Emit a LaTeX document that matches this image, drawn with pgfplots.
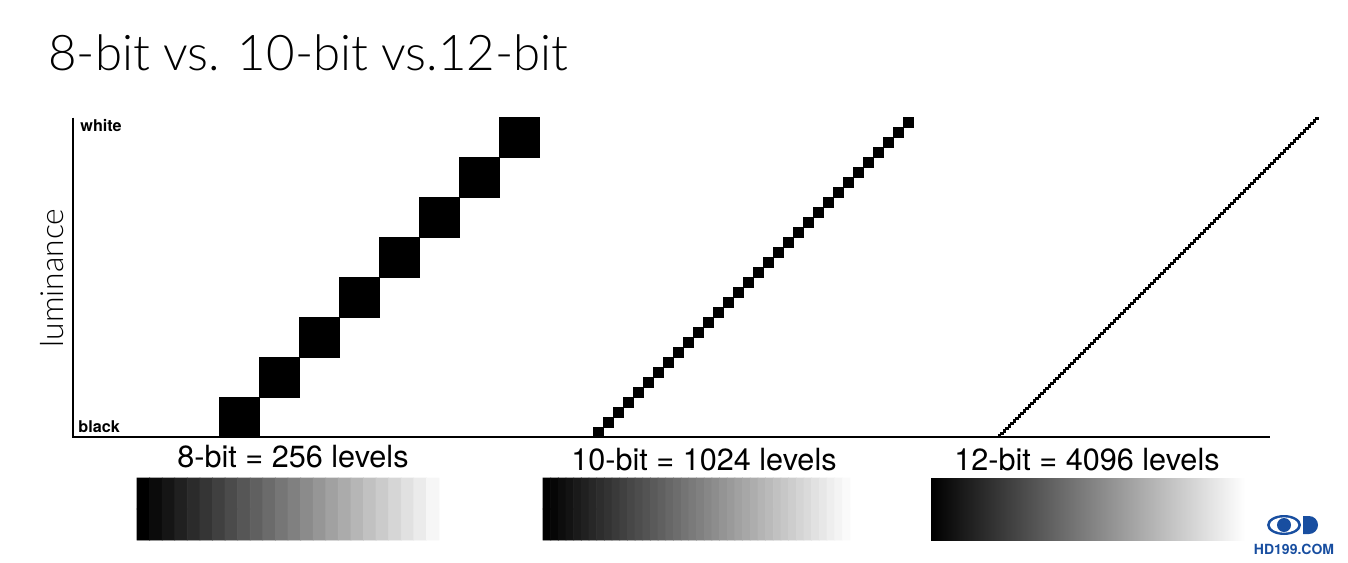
\documentclass[border=0pt]{standalone}
\usepackage{pgfplots}
\usepackage{pgfplotstable}
\pgfplotsset{compat=1.18}
\usepackage{fontspec}
\setmainfont{TeX Gyre Heros}
\newfontfamily\lightfont{Lato Light}
\definecolor{logoblue}{RGB}{24,78,160}

% coordinates are image pixels, y measured downward (y dir=reverse)
% 8-bit: 8 levels shown (centres of 40px squares)
\pgfplotstableread{
x y
239 417
279 377
319 337
359 297
399 257
439 217
479 177
519 137
}\eightbit

% 10-bit: 32 levels shown (centres of 10px squares)
\pgfplotstableread{
x y
598 432
608 422
618 412
628 402
638 392
648 382
658 372
668 362
678 352
688 342
698 332
708 322
718 312
728 302
738 292
748 282
758 272
768 262
778 252
788 242
798 232
808 222
818 212
828 202
838 192
848 182
858 172
868 162
878 152
888 142
898 132
908 122
}\tenbit

% 12-bit: 128 levels shown (centres of 2.5px squares)
\pgfplotstableread{
x y
999.25 435.75
1001.75 433.25
1004.25 430.75
1006.75 428.25
1009.25 425.75
1011.75 423.25
1014.25 420.75
1016.75 418.25
1019.25 415.75
1021.75 413.25
1024.25 410.75
1026.75 408.25
1029.25 405.75
1031.75 403.25
1034.25 400.75
1036.75 398.25
1039.25 395.75
1041.75 393.25
1044.25 390.75
1046.75 388.25
1049.25 385.75
1051.75 383.25
1054.25 380.75
1056.75 378.25
1059.25 375.75
1061.75 373.25
1064.25 370.75
1066.75 368.25
1069.25 365.75
1071.75 363.25
1074.25 360.75
1076.75 358.25
1079.25 355.75
1081.75 353.25
1084.25 350.75
1086.75 348.25
1089.25 345.75
1091.75 343.25
1094.25 340.75
1096.75 338.25
1099.25 335.75
1101.75 333.25
1104.25 330.75
1106.75 328.25
1109.25 325.75
1111.75 323.25
1114.25 320.75
1116.75 318.25
1119.25 315.75
1121.75 313.25
1124.25 310.75
1126.75 308.25
1129.25 305.75
1131.75 303.25
1134.25 300.75
1136.75 298.25
1139.25 295.75
1141.75 293.25
1144.25 290.75
1146.75 288.25
1149.25 285.75
1151.75 283.25
1154.25 280.75
1156.75 278.25
1159.25 275.75
1161.75 273.25
1164.25 270.75
1166.75 268.25
1169.25 265.75
1171.75 263.25
1174.25 260.75
1176.75 258.25
1179.25 255.75
1181.75 253.25
1184.25 250.75
1186.75 248.25
1189.25 245.75
1191.75 243.25
1194.25 240.75
1196.75 238.25
1199.25 235.75
1201.75 233.25
1204.25 230.75
1206.75 228.25
1209.25 225.75
1211.75 223.25
1214.25 220.75
1216.75 218.25
1219.25 215.75
1221.75 213.25
1224.25 210.75
1226.75 208.25
1229.25 205.75
1231.75 203.25
1234.25 200.75
1236.75 198.25
1239.25 195.75
1241.75 193.25
1244.25 190.75
1246.75 188.25
1249.25 185.75
1251.75 183.25
1254.25 180.75
1256.75 178.25
1259.25 175.75
1261.75 173.25
1264.25 170.75
1266.75 168.25
1269.25 165.75
1271.75 163.25
1274.25 160.75
1276.75 158.25
1279.25 155.75
1281.75 153.25
1284.25 150.75
1286.75 148.25
1289.25 145.75
1291.75 143.25
1294.25 140.75
1296.75 138.25
1299.25 135.75
1301.75 133.25
1304.25 130.75
1306.75 128.25
1309.25 125.75
1311.75 123.25
1314.25 120.75
1316.75 118.25
}\twelvebit

% gradient bar, 8-bit (banded)
\pgfplotstableread{
x y c
143.3 493.5 0
155.9 493.5 0.0417
168.5 493.5 0.0833
181.0 493.5 0.125
193.6 493.5 0.1667
206.2 493.5 0.2083
218.8 493.5 0.25
231.4 493.5 0.2917
244.0 493.5 0.3333
256.5 493.5 0.375
269.1 493.5 0.4167
281.7 493.5 0.4583
294.3 493.5 0.5
306.9 493.5 0.5417
319.5 493.5 0.5833
332.0 493.5 0.625
344.6 493.5 0.6667
357.2 493.5 0.7083
369.8 493.5 0.75
382.4 493.5 0.7917
395.0 493.5 0.8333
407.5 493.5 0.875
420.1 493.5 0.9167
432.7 493.5 0.9583
143.3 524.5 0
155.9 524.5 0.0417
168.5 524.5 0.0833
181.0 524.5 0.125
193.6 524.5 0.1667
206.2 524.5 0.2083
218.8 524.5 0.25
231.4 524.5 0.2917
244.0 524.5 0.3333
256.5 524.5 0.375
269.1 524.5 0.4167
281.7 524.5 0.4583
294.3 524.5 0.5
306.9 524.5 0.5417
319.5 524.5 0.5833
332.0 524.5 0.625
344.6 524.5 0.6667
357.2 524.5 0.7083
369.8 524.5 0.75
382.4 524.5 0.7917
395.0 524.5 0.8333
407.5 524.5 0.875
420.1 524.5 0.9167
432.7 524.5 0.9583
}\eightbar

% gradient bar, 10-bit (finer bands)
\pgfplotstableread{
x y c
546.84 493.5 0
554.51 493.5 0.025
562.19 493.5 0.05
569.86 493.5 0.075
577.54 493.5 0.1
585.21 493.5 0.125
592.89 493.5 0.15
600.56 493.5 0.175
608.24 493.5 0.2
615.91 493.5 0.225
623.59 493.5 0.25
631.26 493.5 0.275
638.94 493.5 0.3
646.61 493.5 0.325
654.29 493.5 0.35
661.96 493.5 0.375
669.64 493.5 0.4
677.31 493.5 0.425
684.99 493.5 0.45
692.66 493.5 0.475
700.34 493.5 0.5
708.01 493.5 0.525
715.69 493.5 0.55
723.36 493.5 0.575
731.04 493.5 0.6
738.71 493.5 0.625
746.39 493.5 0.65
754.06 493.5 0.675
761.74 493.5 0.7
769.41 493.5 0.725
777.09 493.5 0.75
784.76 493.5 0.775
792.44 493.5 0.8
800.11 493.5 0.825
807.79 493.5 0.85
815.46 493.5 0.875
823.14 493.5 0.9
830.81 493.5 0.925
838.49 493.5 0.95
846.16 493.5 0.975
546.84 524.5 0
554.51 524.5 0.025
562.19 524.5 0.05
569.86 524.5 0.075
577.54 524.5 0.1
585.21 524.5 0.125
592.89 524.5 0.15
600.56 524.5 0.175
608.24 524.5 0.2
615.91 524.5 0.225
623.59 524.5 0.25
631.26 524.5 0.275
638.94 524.5 0.3
646.61 524.5 0.325
654.29 524.5 0.35
661.96 524.5 0.375
669.64 524.5 0.4
677.31 524.5 0.425
684.99 524.5 0.45
692.66 524.5 0.475
700.34 524.5 0.5
708.01 524.5 0.525
715.69 524.5 0.55
723.36 524.5 0.575
731.04 524.5 0.6
738.71 524.5 0.625
746.39 524.5 0.65
754.06 524.5 0.675
761.74 524.5 0.7
769.41 524.5 0.725
777.09 524.5 0.75
784.76 524.5 0.775
792.44 524.5 0.8
800.11 524.5 0.825
807.79 524.5 0.85
815.46 524.5 0.875
823.14 524.5 0.9
830.81 524.5 0.925
838.49 524.5 0.95
846.16 524.5 0.975
}\tenbar

\begin{document}
\begin{tikzpicture}
\begin{axis}[
  x=0.5pt, y=0.5pt, y dir=reverse,
  xmin=0, xmax=1348, ymin=0, ymax=562,
  hide axis, clip=false,
  colormap={bw}{gray(0cm)=(0); gray(1cm)=(1)},
  point meta min=0, point meta max=1,
]
% luminance axis lines
\addplot[black, line width=0.75pt] coordinates {(73,117.5) (73,437) (1270,437)};

% staircases
\addplot[only marks, mark=square*, mark size=10pt, mark options={draw=none, fill=black}] table {\eightbit};
\addplot[only marks, mark=square*, mark size=2.5pt, mark options={draw=none, fill=black}] table {\tenbit};
\addplot[only marks, mark=square*, mark size=0.6pt, mark options={draw=none, fill=black}] table {\twelvebit};

% gradient bars
\addplot[matrix plot, mesh/cols=24, point meta=explicit] table[meta=c] {\eightbar};
\addplot[matrix plot, mesh/cols=40, point meta=explicit] table[meta=c] {\tenbar};
\addplot[draw=none, left color=black, right color=white] coordinates {(931,478) (1245,478) (1245,540) (931,540)} -- cycle;

% texts
\node[anchor=base west, inner sep=0pt, font=\lightfont\fontsize{24.6}{29}\selectfont] at (axis cs:48,70) {8-bit vs. 10-bit vs.12-bit};
\node[rotate=90, inner sep=0pt, font=\lightfont\fontsize{15.9}{19}\selectfont] at (axis cs:52,278) {luminance};
\node[anchor=base west, inner sep=0pt, font=\bfseries\fontsize{8.1}{10}\selectfont] at (axis cs:80,131) {white};
\node[anchor=base west, inner sep=0pt, font=\bfseries\fontsize{8.1}{10}\selectfont] at (axis cs:78,432) {black};
\node[anchor=base, inner sep=0pt, font=\fontsize{15.3}{18}\selectfont] at (axis cs:293,467) {8-bit = 256 levels};
\node[anchor=base, inner sep=0pt, font=\fontsize{15.3}{18}\selectfont] at (axis cs:704,470) {10-bit = 1024 levels};
\node[anchor=base, inner sep=0pt, font=\fontsize{15.3}{18}\selectfont] at (axis cs:1087,470) {12-bit = 4096 levels};

% logo
\fill[logoblue] (axis cs:1284,525) ellipse [x radius=8.5pt, y radius=5pt];
\fill[white] (axis cs:1284,525) ellipse [x radius=7.1pt, y radius=3.8pt];
\fill[logoblue] (axis cs:1284,525) circle [radius=3.5pt];
\fill[logoblue] (axis cs:1303,534) -- (axis cs:1309,534) arc[start angle=-90, end angle=90, radius=4.5pt] -- (axis cs:1303,516) -- cycle;
\node[inner sep=0pt, text=logoblue, font=\bfseries\fontsize{7}{8}\selectfont] at (axis cs:1294,549) {HD199.COM};

\path (axis cs:0,0) (axis cs:1348,562);
\end{axis}
\end{tikzpicture}
\end{document}
